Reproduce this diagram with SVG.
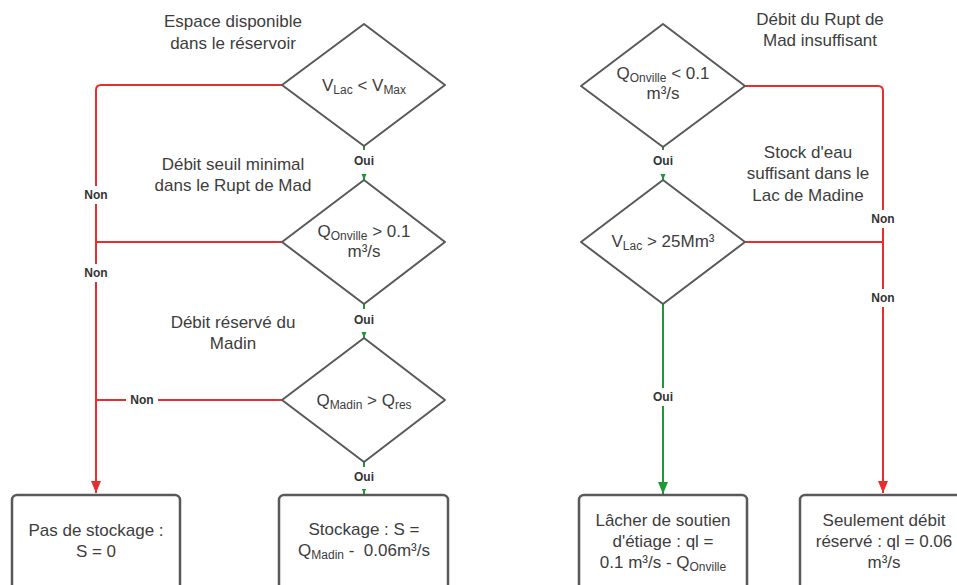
<svg xmlns="http://www.w3.org/2000/svg" width="957" height="585" viewBox="0 0 957 585">
<style>
.t{font-family:"Liberation Sans",Arial,sans-serif;font-size:17px;fill:#3d3d3d;text-anchor:middle}
.s{font-size:12px}
.lb{font-family:"Liberation Sans",Arial,sans-serif;font-size:12px;font-weight:bold;fill:#333;text-anchor:middle}
.shape{fill:#fff;stroke:#595959;stroke-width:2;stroke-linejoin:round}
.box{fill:#fff;stroke:#595959;stroke-width:2.5}
.red{fill:none;stroke:#e62e2e;stroke-width:2}
.grn{fill:none;stroke:#1f9a30;stroke-width:2}
</style>
<defs>
<marker id="ar" markerWidth="12" markerHeight="10" refX="12" refY="5" orient="auto" markerUnits="userSpaceOnUse" viewBox="0 0 12 10">
<path d="M0,0 L12,5 L0,10 Z" fill="#e62e2e"/>
</marker>
<marker id="ag" markerWidth="12" markerHeight="10" refX="12" refY="5" orient="auto" markerUnits="userSpaceOnUse" viewBox="0 0 12 10">
<path d="M0,0 L12,5 L0,10 Z" fill="#1f9a30"/>
</marker>
</defs>

<g id="connectors">
<path class="red" d="M282,85 H101 Q96,85 96,90 V493" marker-end="url(#ar)"/>
<path class="red" d="M282,242 H96"/>
<path class="red" d="M282,400 H96"/>
<path class="red" d="M745,86 H878 Q883,86 883,91 V493" marker-end="url(#ar)"/>
<path class="red" d="M745,242 H883"/>
<path class="grn" d="M364,146 V180" marker-end="url(#ag)"/>
<path class="grn" d="M364,304 V338" marker-end="url(#ag)"/>
<path class="grn" d="M364,462 V494" marker-end="url(#ag)"/>
<path class="grn" d="M663,147 V180" marker-end="url(#ag)"/>
<path class="grn" d="M663,304 V494" marker-end="url(#ag)"/>
<g id="labels">
<rect x="80" y="186" width="32" height="18" fill="#fff"/>
<text class="lb" x="96" y="199">Non</text>
<rect x="80" y="264" width="32" height="18" fill="#fff"/>
<text class="lb" x="96" y="277">Non</text>
<rect x="126" y="392" width="32" height="16" fill="#fff"/>
<text class="lb" x="142" y="404">Non</text>
<rect x="867" y="210" width="32" height="18" fill="#fff"/>
<text class="lb" x="883" y="223">Non</text>
<rect x="867" y="289" width="32" height="18" fill="#fff"/>
<text class="lb" x="883" y="302">Non</text>
<rect x="350" y="150" width="28" height="24" fill="#fff"/>
<text class="lb" x="364" y="165">Oui</text>
<rect x="350" y="309" width="28" height="23" fill="#fff"/>
<text class="lb" x="364" y="324">Oui</text>
<rect x="350" y="467" width="28" height="22" fill="#fff"/>
<text class="lb" x="364" y="481">Oui</text>
<rect x="649" y="150" width="28" height="24" fill="#fff"/>
<text class="lb" x="663" y="165">Oui</text>
<rect x="649" y="388" width="28" height="18" fill="#fff"/>
<text class="lb" x="663" y="401">Oui</text>
</g>
</g>

<g id="d1">
<path class="shape" d="M364,24 L445,85 L364,146 L282,85 Z"/>
<text class="t" x="364" y="91">V<tspan class="s" dy="3">Lac</tspan><tspan dy="-3"> &lt; V</tspan><tspan class="s" dy="3">Max</tspan></text>
</g>
<g id="d2">
<path class="shape" d="M364,180 L445,242 L364,304 L282,242 Z"/>
<text class="t" x="364" y="237">Q<tspan class="s" dy="3">Onville</tspan><tspan dy="-3"> &gt; 0.1</tspan></text>
<text class="t" x="364" y="257">m³/s</text>
</g>
<g id="d3">
<path class="shape" d="M364,338 L445,400 L364,462 L282,400 Z"/>
<text class="t" x="364" y="406">Q<tspan class="s" dy="3">Madin</tspan><tspan dy="-3"> &gt; Q</tspan><tspan class="s" dy="3">res</tspan></text>
</g>
<g id="d4">
<path class="shape" d="M663,24 L745,86 L663,147 L581,86 Z"/>
<text class="t" x="663" y="79">Q<tspan class="s" dy="3">Onville</tspan><tspan dy="-3"> &lt; 0.1</tspan></text>
<text class="t" x="663" y="99">m³/s</text>
</g>
<g id="d5">
<path class="shape" d="M663,180 L745,242 L663,304 L581,242 Z"/>
<text class="t" x="663" y="247">V<tspan class="s" dy="3">Lac</tspan><tspan dy="-3"> &gt; 25Mm³</tspan></text>
</g>

<g id="b1">
<rect class="box" x="12" y="495" width="168" height="96" rx="5"/>
<text class="t" x="96" y="536">Pas de stockage :</text>
<text class="t" x="96" y="557">S = 0</text>
</g>
<g id="b2">
<rect class="box" x="279" y="495" width="169" height="96" rx="5"/>
<text class="t" x="364" y="535">Stockage : S =</text>
<text class="t" x="364" y="556">Q<tspan class="s" dy="3">Madin</tspan><tspan dy="-3"> - &#160;0.06m³/s</tspan></text>
</g>
<g id="b3">
<rect class="box" x="579" y="495" width="168" height="96" rx="5"/>
<text class="t" x="663" y="526">Lâcher de soutien</text>
<text class="t" x="663" y="547">d'étiage : ql =</text>
<text class="t" x="663" y="568">0.1 m³/s - Q<tspan class="s" dy="3">Onville</tspan></text>
</g>
<g id="b4">
<rect class="box" x="800" y="495" width="168" height="96" rx="5"/>
<text class="t" x="884" y="526">Seulement débit</text>
<text class="t" x="884" y="547">réservé : ql = 0.06</text>
<text class="t" x="884" y="568">m³/s</text>
</g>

<g id="notes">
<text class="t" x="233" y="27">Espace disponible</text>
<text class="t" x="233" y="49">dans le réservoir</text>
<text class="t" x="233" y="170">Débit seuil minimal</text>
<text class="t" x="233" y="191">dans le Rupt de Mad</text>
<text class="t" x="233" y="328">Débit réservé du</text>
<text class="t" x="233" y="349">Madin</text>
<text class="t" x="820" y="25">Débit du Rupt de</text>
<text class="t" x="820" y="46">Mad insuffisant</text>
<text class="t" x="808" y="158">Stock d'eau</text>
<text class="t" x="808" y="179">suffisant dans le</text>
<text class="t" x="808" y="201">Lac de Madine</text>
</g>
</svg>
